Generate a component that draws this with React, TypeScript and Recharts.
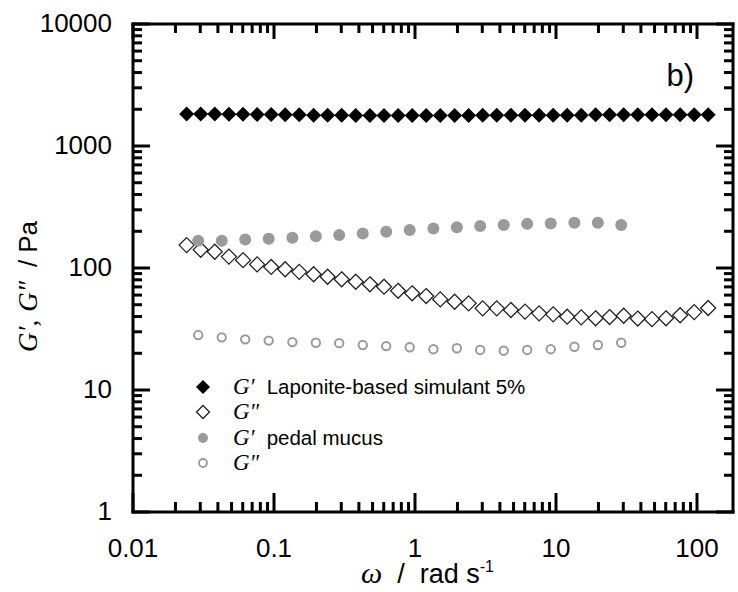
import React from "react";
import { Legend, Scatter, ScatterChart, XAxis, YAxis } from "recharts";

// angular frequency (rad/s) and moduli (Pa)
const laponiteOmega = [
  0.024, 0.0302, 0.038, 0.0479, 0.0603, 0.0759, 0.0955, 0.12, 0.151, 0.191,
  0.24, 0.302, 0.38, 0.479, 0.603, 0.759, 0.955, 1.2, 1.51, 1.91,
  2.4, 3.02, 3.8, 4.79, 6.03, 7.59, 9.55, 12, 15.1, 19.1,
  24, 30.2, 38, 47.9, 60.3, 75.9, 95.5, 120,
];
const laponiteStorage = [
  1830, 1830, 1830, 1820, 1820, 1810, 1810, 1800, 1800, 1790,
  1790, 1790, 1780, 1780, 1780, 1780, 1780, 1780, 1780, 1780,
  1780, 1790, 1790, 1790, 1790, 1790, 1790, 1790, 1790, 1800,
  1800, 1800, 1800, 1800, 1800, 1800, 1800, 1800,
];
const laponiteLoss = [
  154, 141, 136, 124, 116, 107, 102, 97.6, 93, 88.8,
  84.8, 80.8, 77.2, 73.5, 70.3, 65, 62, 58.9, 55.3, 52.9,
  51.3, 46.7, 46.7, 45.3, 43.9, 42.5, 41.7, 39.9, 39.4, 38.7,
  39.6, 40.6, 38.5, 38.1, 38.7, 41, 43.5, 47,
];
const mucusOmega = [
  0.029, 0.0426, 0.0625, 0.0917, 0.135, 0.198, 0.29, 0.426, 0.625, 0.917,
  1.35, 1.98, 2.9, 4.26, 6.25, 9.17, 13.5, 19.8, 29,
];
const mucusStorage = [
  167, 167, 171, 174, 177, 182, 186, 192, 198, 205,
  211, 216, 221, 225, 230, 232, 235, 235, 225,
];
const mucusLoss = [
  28.2, 27.0, 26.0, 25.4, 24.7, 24.4, 24.2, 23.4, 22.9, 22.4,
  21.6, 22.0, 21.3, 21.0, 21.3, 21.6, 22.6, 23.4, 24.4,
];

const xTicks = [
  0.01, 0.02, 0.03, 0.04, 0.05, 0.06, 0.07, 0.08, 0.09,
  0.1, 0.2, 0.3, 0.4, 0.5, 0.6, 0.7, 0.8, 0.9,
  1, 2, 3, 4, 5, 6, 7, 8, 9,
  10, 20, 30, 40, 50, 60, 70, 80, 90,
  100,
];
const yTicks = [
  1, 2, 3, 4, 5, 6, 7, 8, 9,
  10, 20, 30, 40, 50, 60, 70, 80, 90,
  100, 200, 300, 400, 500, 600, 700, 800, 900,
  1000, 2000, 3000, 4000, 5000, 6000, 7000, 8000, 9000,
  10000,
];

const legendLabels = ["Laponite-based simulant 5%", "", "pedal mucus", ""];
const legendSymbols = ["G\u2032", "G\u2033", "G\u2032", "G\u2033"];

const GREY = "#9a9a9a";
const SANS = '"Liberation Sans", Arial, sans-serif';
const SERIF = '"Liberation Serif", "Times New Roman", serif';

const toRows = (xs: number[], ys: number[]) => xs.map((w, i) => ({ w, g: ys[i] }));

const isMajor = (v: number) => Math.abs(Math.log10(v) - Math.round(Math.log10(v))) < 1e-6;

const BottomTick = ({ x, y, payload }: any) => {
  const major = isMajor(payload.value);
  return (
    <g>
      <line x1={x} x2={x} y1={y} y2={y - (major ? 19 : 10)} stroke="#000" strokeWidth={3} />
      {major && (
        <text x={x} y={y + 45} textAnchor="middle" fontFamily={SANS} fontSize={26} fill="#000">
          {String(payload.value)}
        </text>
      )}
    </g>
  );
};

const TopTick = ({ x, y, payload }: any) => (
  <line x1={x} x2={x} y1={y} y2={y + (isMajor(payload.value) ? 15 : 9)} stroke="#000" strokeWidth={3} />
);

const LeftTick = ({ x, y, payload }: any) => {
  const major = isMajor(payload.value);
  return (
    <g>
      <line x1={x} x2={x + (major ? 17 : 9)} y1={y} y2={y} stroke="#000" strokeWidth={3} />
      {major && (
        <text x={x - 21} y={y + 8} textAnchor="end" fontFamily={SANS} fontSize={26} fill="#000">
          {String(payload.value)}
        </text>
      )}
    </g>
  );
};

const RightTick = ({ x, y, payload }: any) => (
  <line x1={x} x2={x - (isMajor(payload.value) ? 17 : 9)} y1={y} y2={y} stroke="#000" strokeWidth={3} />
);

const XTitle = ({ viewBox }: any) => {
  const left = viewBox?.x ?? 133;
  const top = viewBox?.y ?? 512;
  return (
    <text x={left + 228} y={top + 71} fontFamily={SANS} fontSize={27} fill="#000">
      <tspan fontFamily={SERIF} fontStyle="italic" fontSize={30}>ω</tspan>
      <tspan dx={15}>/</tspan>
      <tspan dx={15}>rad s</tspan>
      <tspan dy={-11} fontSize={16}>-1</tspan>
    </text>
  );
};

const YTitle = ({ viewBox }: any) => {
  const right = viewBox ? viewBox.x + viewBox.width : 133;
  const bx = right - 96;
  const by = 352;
  return (
    <text x={bx} y={by} transform={`rotate(-90 ${bx} ${by})`} fontFamily={SANS} fontSize={26} fill="#000">
      <tspan fontFamily={SERIF} fontStyle="italic" fontSize={27}>G′,</tspan>
      <tspan dx={8} fontFamily={SERIF} fontStyle="italic" fontSize={27}>G″</tspan>
      <tspan dx={14}>/</tspan>
      <tspan dx={7}>Pa</tspan>
    </text>
  );
};

const PanelTag = ({ viewBox }: any) => {
  const right = viewBox ? viewBox.x + viewBox.width : 733;
  const bottom = viewBox ? viewBox.y + viewBox.height : 24;
  return (
    <text x={right - 39} y={bottom + 62} textAnchor="end" fontFamily={SANS} fontSize={31} fill="#000">
      b)
    </text>
  );
};

const FilledDiamond = ({ cx, cy }: any) => (
  <polygon points={`${cx},${cy - 7.5} ${cx + 7.5},${cy} ${cx},${cy + 7.5} ${cx - 7.5},${cy}`} fill="#000" />
);
const OpenDiamond = ({ cx, cy }: any) => (
  <polygon
    points={`${cx},${cy - 7.5} ${cx + 7.5},${cy} ${cx},${cy + 7.5} ${cx - 7.5},${cy}`}
    fill="none"
    stroke="#222"
    strokeWidth={1.3}
  />
);
const FilledDot = ({ cx, cy }: any) => <circle cx={cx} cy={cy} r={6} fill={GREY} />;
const OpenDot = ({ cx, cy }: any) => <circle cx={cx} cy={cy} r={4.2} fill="none" stroke={GREY} strokeWidth={2} />;

const legendMarkers = [
  <polygon key="a" points="11,4 18,11 11,18 4,11" fill="#000" />,
  <polygon key="b" points="11,4.5 17.5,11 11,17.5 4.5,11" fill="none" stroke="#222" strokeWidth={1.3} />,
  <circle key="c" cx={11} cy={11} r={5} fill={GREY} />,
  <circle key="d" cx={11} cy={11} r={4} fill="none" stroke={GREY} strokeWidth={1.8} />,
];

const LegendBox = () => (
  <div style={{ display: "flex", flexDirection: "column" }}>
    {legendSymbols.map((sym, i) => (
      <div key={i} style={{ display: "flex", alignItems: "center", height: 25.5 }}>
        <svg width={22} height={22}>{legendMarkers[i]}</svg>
        <span style={{ fontFamily: SERIF, fontStyle: "italic", fontSize: 23, marginLeft: 19 }}>{sym}</span>
        {legendLabels[i] && (
          <span style={{ fontFamily: SANS, fontSize: 20.5, marginLeft: 12 }}>{legendLabels[i]}</span>
        )}
      </div>
    ))}
  </div>
);

const axisLine = { stroke: "#000", strokeWidth: 3, strokeLinecap: "square" as const };

export default function App() {
  return (
    <div style={{ position: "absolute", left: 0, top: 0, width: 738, height: 592, background: "#fff" }}>
      <ScatterChart width={738} height={592} margin={{ top: 23, right: 4, bottom: 20, left: 73 }}>
        <XAxis
          dataKey="w"
          type="number"
          scale="log"
          domain={[0.01, 180]}
          allowDataOverflow
          ticks={xTicks}
          interval={0}
          tickSize={0}
          tickMargin={0}
          tick={<BottomTick />}
          axisLine={axisLine}
          height={60}
          label={<XTitle />}
        />
        <XAxis
          xAxisId="top"
          orientation="top"
          dataKey="w"
          type="number"
          scale="log"
          domain={[0.01, 180]}
          allowDataOverflow
          ticks={xTicks}
          interval={0}
          tickSize={0}
          tickMargin={0}
          tick={<TopTick />}
          axisLine={axisLine}
          height={1}
          label={<PanelTag />}
        />
        <YAxis
          dataKey="g"
          type="number"
          scale="log"
          domain={[1, 10000]}
          allowDataOverflow
          ticks={yTicks}
          interval={0}
          tickSize={0}
          tickMargin={0}
          tick={<LeftTick />}
          axisLine={axisLine}
          width={60}
          label={<YTitle />}
        />
        <YAxis
          yAxisId="right"
          orientation="right"
          dataKey="g"
          type="number"
          scale="log"
          domain={[1, 10000]}
          allowDataOverflow
          ticks={yTicks}
          interval={0}
          tickSize={0}
          tickMargin={0}
          tick={<RightTick />}
          axisLine={axisLine}
          width={1}
        />
        <Scatter data={toRows(laponiteOmega, laponiteStorage)} shape={<FilledDiamond />} isAnimationActive={false} />
        <Scatter data={toRows(laponiteOmega, laponiteLoss)} shape={<OpenDiamond />} isAnimationActive={false} />
        <Scatter data={toRows(mucusOmega, mucusStorage)} shape={<FilledDot />} isAnimationActive={false} />
        <Scatter data={toRows(mucusOmega, mucusLoss)} shape={<OpenDot />} isAnimationActive={false} />
        <Legend
          layout="vertical"
          align="center"
          verticalAlign="middle"
          content={<LegendBox />}
          wrapperStyle={{ left: 192, top: 374, width: 400, height: 110 }}
        />
      </ScatterChart>
    </div>
  );
}
